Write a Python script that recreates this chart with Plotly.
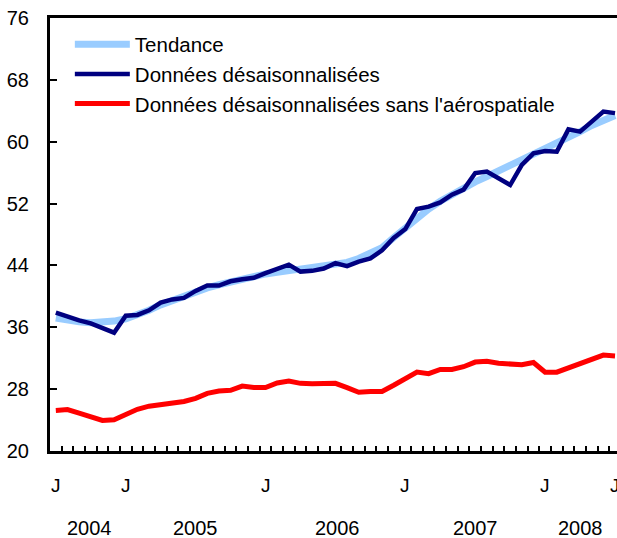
import plotly.graph_objects as go

# Monthly data, July 2004 to July 2008 (49 months)
tendance = [37.2, 36.9, 36.7, 36.6, 36.6, 36.8, 37.1, 37.6, 38.2, 38.9,
            39.5, 40.0, 40.6, 41.1, 41.5, 41.9, 42.2, 42.5, 42.9, 43.1,
            43.3, 43.5, 43.7, 43.9, 44.1, 44.4, 44.9, 45.5, 46.3, 47.6,
            48.9, 50.2, 51.3, 52.3, 53.2, 54.0, 54.8, 55.5, 56.2, 56.9,
            57.6, 58.3, 59.0, 59.7, 60.5, 61.3, 62.1, 62.8, 63.4]

desaison = [37.9, 37.35, 36.9, 36.5, 35.9, 35.3, 37.5, 37.6, 38.2, 39.2,
            39.6, 39.8, 40.7, 41.4, 41.4, 41.95, 42.2, 42.4, 43.0, 43.6,
            44.1, 43.2, 43.3, 43.6, 44.3, 43.9, 44.5, 44.9, 45.95, 47.55,
            48.7, 51.3, 51.6, 52.15, 53.15, 53.8, 55.95, 56.15, 55.3, 54.4,
            57.0, 58.5, 58.8, 58.7, 61.6, 61.3, 62.6, 63.9, 63.7]

sans_aero = [25.25, 25.35, 24.9, 24.4, 23.95, 24.05, 24.75, 25.4, 25.8, 25.95,
             26.1, 26.4, 26.8, 27.45, 27.75, 27.85, 28.4, 28.2, 28.2, 28.8,
             29.05, 28.75, 28.7, 28.65, 28.75, 28.2, 27.6, 27.7, 27.7, 28.5,
             29.35, 30.2, 30.0, 30.55, 30.55, 30.9, 31.5, 31.6, 31.35, 31.2,
             31.15, 31.45, 30.2, 30.2, 30.75, 31.3, 31.75, 32.4, 32.3]

series_names = ["Tendance", "Données désaisonnalisées",
                "Données désaisonnalisées sans l'aérospatiale"]

month_label_pos = [0, 6, 18, 30, 42, 48]
month_labels = ["J", "J", "J", "J", "J", "J"]
year_label_pos = [2.9, 12.0, 24.2, 36.0, 45.0]
year_labels = ["2004", "2005", "2006", "2007", "2008"]

y_ticks = [20, 28, 36, 44, 52, 60, 68, 76]

x = list(range(len(desaison)))

FONT = "Liberation Sans, Arial, Helvetica, sans-serif"

fig = go.Figure()
fig.add_trace(go.Scatter(x=x, y=tendance, mode="lines", name=series_names[0],
                         line=dict(color="#99CCFF", width=7)))
fig.add_trace(go.Scatter(x=x, y=desaison, mode="lines", name=series_names[1],
                         line=dict(color="#000080", width=4.5)))
fig.add_trace(go.Scatter(x=x, y=sans_aero, mode="lines", name=series_names[2],
                         line=dict(color="#FF0000", width=5)))

annotations = []
for p, t in zip(month_label_pos, month_labels):
    annotations.append(dict(x=p, y=0, xref="x", yref="paper", text=t,
                            showarrow=False, yanchor="middle", yshift=-34,
                            font=dict(size=19, color="black", family=FONT)))
for p, t in zip(year_label_pos, year_labels):
    annotations.append(dict(x=p, y=0, xref="x", yref="paper", text=t,
                            showarrow=False, yanchor="middle", yshift=-77,
                            font=dict(size=20, color="black", family=FONT)))

fig.update_layout(
    width=617, height=538, autosize=False,
    margin=dict(l=50, r=0, t=18, b=87),
    plot_bgcolor="white", paper_bgcolor="white",
    font=dict(family=FONT, size=20, color="black"),
    showlegend=True,
    legend=dict(x=0.035, y=0.985, xanchor="left", yanchor="top",
                bgcolor="rgba(0,0,0,0)", font=dict(size=20.5, family=FONT),
                itemwidth=55, tracegroupgap=0),
    annotations=annotations,
    xaxis=dict(range=[-0.5, 48.17], showgrid=False, zeroline=False,
               showline=True, linecolor="black", linewidth=3, mirror=True,
               tickvals=[i - 0.5 for i in range(len(x) + 1)],
               ticktext=["" for _ in range(len(x) + 1)],
               ticks="inside", ticklen=5, tickwidth=2, tickcolor="black",
               showticklabels=False),
    yaxis=dict(range=[20, 76], showgrid=False, zeroline=False,
               showline=True, linecolor="black", linewidth=3,
               tickvals=y_ticks, ticks="inside", ticklen=7, tickwidth=2,
               tickcolor="black", ticklabelstandoff=14,
               tickfont=dict(size=20, family=FONT)),
)

fig.write_html("out.html", config={"displayModeBar": False},
               post_script="document.body.style.margin='0';document.body.style.padding='0';")
